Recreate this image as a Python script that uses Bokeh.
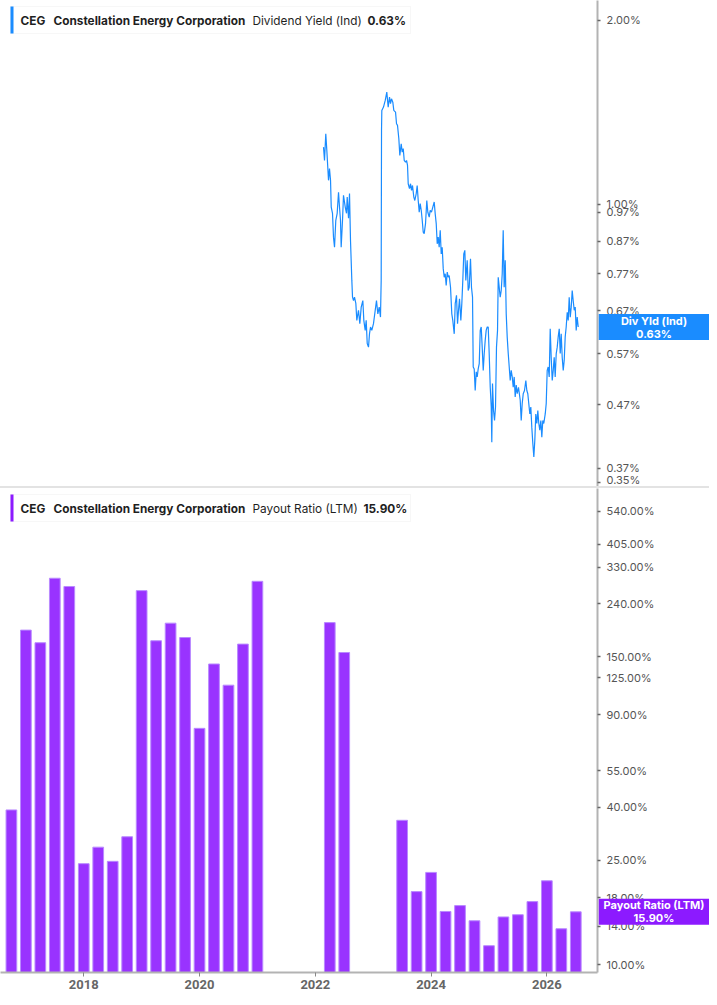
from bokeh.plotting import figure
from bokeh.models import (Range1d, LogAxis, LinearAxis, FixedTicker, PrintfTickFormatter,
                          Label, BoxAnnotation, Div)
from bokeh.layouts import column, row
from bokeh.core.properties import value
from bokeh.embed import file_html
from bokeh.resources import INLINE

# ---------------- data ----------------
# Dividend yield (indicated), %, dates as fractional years
dy_dates = [2022.142, 2022.159, 2022.181, 2022.199, 2022.228, 2022.245, 2022.263, 2022.275, 2022.297, 2022.314,
            2022.332, 2022.354, 2022.378, 2022.401, 2022.418, 2022.435, 2022.447, 2022.470, 2022.487, 2022.517,
            2022.539, 2022.551, 2022.574, 2022.591, 2022.608, 2022.631, 2022.643, 2022.660, 2022.677, 2022.700,
            2022.717, 2022.746, 2022.769, 2022.793, 2022.821, 2022.838, 2022.862, 2022.879, 2022.897, 2022.919,
            2022.936, 2022.954, 2022.976, 2023.005, 2023.035, 2023.057, 2023.080, 2023.104, 2023.126, 2023.138,
            2023.144, 2023.149, 2023.178, 2023.208, 2023.235, 2023.259, 2023.282, 2023.299, 2023.316, 2023.339,
            2023.356, 2023.386, 2023.403, 2023.420, 2023.443, 2023.460, 2023.484, 2023.501, 2023.519, 2023.536,
            2023.558, 2023.576, 2023.593, 2023.605, 2023.627, 2023.645, 2023.662, 2023.679, 2023.702, 2023.719,
            2023.743, 2023.760, 2023.778, 2023.795, 2023.812, 2023.830, 2023.847, 2023.864, 2023.881, 2023.904,
            2023.926, 2023.944, 2023.968, 2023.985, 2024.007, 2024.030, 2024.054, 2024.071, 2024.089, 2024.106,
            2024.123, 2024.140, 2024.158, 2024.175, 2024.192, 2024.210, 2024.227, 2024.244, 2024.261, 2024.279,
            2024.296, 2024.313, 2024.336, 2024.358, 2024.375, 2024.400, 2024.417, 2024.439, 2024.457, 2024.474,
            2024.491, 2024.514, 2024.531, 2024.548, 2024.565, 2024.583, 2024.600, 2024.624, 2024.641, 2024.659,
            2024.681, 2024.698, 2024.716, 2024.728, 2024.745, 2024.762, 2024.780, 2024.797, 2024.814, 2024.832,
            2024.849, 2024.866, 2024.883, 2024.901, 2024.918, 2024.935, 2024.952, 2024.970, 2024.987, 2025.004,
            2025.022, 2025.039, 2025.049, 2025.061, 2025.079, 2025.096, 2025.113, 2025.130, 2025.148, 2025.160,
            2025.177, 2025.194, 2025.212, 2025.229, 2025.246, 2025.263, 2025.281, 2025.298, 2025.315, 2025.333,
            2025.350, 2025.367, 2025.384, 2025.402, 2025.419, 2025.436, 2025.453, 2025.471, 2025.488, 2025.510,
            2025.540, 2025.557, 2025.574, 2025.592, 2025.614, 2025.637, 2025.654, 2025.671, 2025.688, 2025.706,
            2025.723, 2025.740, 2025.758, 2025.775, 2025.792, 2025.809, 2025.827, 2025.844, 2025.861, 2025.878,
            2025.896, 2025.913, 2025.930, 2025.947, 2025.972, 2025.989, 2026.006, 2026.023, 2026.041, 2026.058,
            2026.075, 2026.093, 2026.110, 2026.127, 2026.144, 2026.162, 2026.179, 2026.196, 2026.214, 2026.231,
            2026.248, 2026.265, 2026.283, 2026.300, 2026.317, 2026.334, 2026.352, 2026.369, 2026.386, 2026.404,
            2026.421, 2026.438, 2026.455, 2026.473, 2026.490, 2026.507, 2026.524, 2026.542]
dy_values = [1.241, 1.180, 1.305, 1.226, 1.095, 1.145, 1.095, 0.990, 0.967, 0.884,
             0.851, 0.942, 0.967, 1.047, 0.990, 0.942, 0.851, 0.942, 1.035, 0.990,
             0.967, 1.028, 0.949, 1.042, 0.873, 0.751, 0.705, 0.696, 0.705, 0.689,
             0.646, 0.671, 0.638, 0.679, 0.696, 0.646, 0.622, 0.646, 0.592, 0.584,
             0.614, 0.630, 0.622, 0.638, 0.671, 0.696, 0.662, 0.679, 0.654, 0.751,
             1.322, 1.425, 1.443, 1.480, 1.527, 1.443, 1.498, 1.462, 1.489, 1.470,
             1.425, 1.416, 1.355, 1.347, 1.281, 1.203, 1.257, 1.218, 1.234, 1.180,
             1.173, 1.180, 1.158, 1.081, 1.061, 1.081, 1.054, 1.074, 1.028, 1.015,
             1.041, 1.074, 1.015, 0.971, 1.003, 0.978, 0.942, 0.901, 0.896, 0.930,
             1.015, 0.971, 0.953, 0.978, 0.971, 0.990, 1.009, 0.966, 0.930, 0.862,
             0.884, 0.851, 0.907, 0.830, 0.851, 0.785, 0.760, 0.770, 0.737, 0.775,
             0.760, 0.765, 0.732, 0.662, 0.646, 0.614, 0.688, 0.710, 0.638, 0.671,
             0.701, 0.646, 0.688, 0.751, 0.830, 0.841, 0.751, 0.810, 0.723, 0.732,
             0.815, 0.732, 0.705, 0.542, 0.538, 0.496, 0.532, 0.522, 0.538, 0.549,
             0.622, 0.630, 0.584, 0.535, 0.570, 0.599, 0.622, 0.630, 0.630, 0.570,
             0.502, 0.466, 0.408, 0.509, 0.460, 0.443, 0.466, 0.584, 0.622, 0.760,
             0.732, 0.705, 0.723, 0.770, 0.907, 0.732, 0.810, 0.662, 0.607, 0.570,
             0.542, 0.515, 0.535, 0.522, 0.502, 0.522, 0.484, 0.506, 0.490, 0.502,
             0.478, 0.443, 0.472, 0.490, 0.496, 0.515, 0.496, 0.490, 0.472, 0.454,
             0.466, 0.432, 0.406, 0.386, 0.411, 0.454, 0.438, 0.460, 0.438, 0.427,
             0.443, 0.416, 0.443, 0.438, 0.454, 0.472, 0.535, 0.542, 0.522, 0.626,
             0.562, 0.515, 0.535, 0.562, 0.522, 0.570, 0.584, 0.607, 0.626, 0.570,
             0.614, 0.562, 0.535, 0.556, 0.607, 0.630, 0.666, 0.646, 0.705, 0.654,
             0.679, 0.723, 0.696, 0.671, 0.679, 0.622, 0.654, 0.630]

# Payout ratio (LTM), %, quarterly (quarter-end as fractional year)
pr_dates = [2016.75, 2017.00, 2017.25, 2017.50, 2017.75, 2018.00, 2018.25, 2018.50, 2018.75,
            2019.00, 2019.25, 2019.50, 2019.75, 2020.00, 2020.25, 2020.50, 2020.75, 2021.00,
            2022.25, 2022.50,
            2023.50, 2023.75, 2024.00, 2024.25, 2024.50, 2024.75, 2025.00, 2025.25, 2025.50,
            2025.75, 2026.00, 2026.25, 2026.50]
pr_values = [39.0, 190.0, 170.0, 300.0, 279.0, 24.3, 28.1, 24.8, 30.8,
             269.0, 173.0, 202.0, 178.0, 80.0, 141.0, 117.0, 168.0, 292.0,
             203.0, 156.0,
             35.6, 19.0, 22.5, 15.95, 16.8, 14.7, 11.8, 15.2, 15.5,
             17.4, 20.9, 13.7, 15.9]

dy_ticks = [0.35, 0.37, 0.47, 0.57, 0.67, 0.77, 0.87, 0.97, 1.00, 2.00]
pr_ticks = [10, 14, 18, 25, 40, 55, 90, 125, 150, 240, 330, 405, 540]
year_ticks = [2018, 2020, 2022, 2024, 2026]

dy_last = 0.63
pr_last = 15.90

# ---------------- styling ----------------
W = 709
FRAME_W = 597
OV_W = W - FRAME_W - 1
TOP_H = 486
BOT_FRAME_H = 484
BOT_H = BOT_FRAME_H + 25
FONT = "Inter"
BLUE = "#1a8cff"
PURPLE = "#9933ff"
PURPLE_BOX = "#8c1aff"

x_range = Range1d(2016.5616, 2026.875)


def base_fig(height, y_range, bottom_border):
    p = figure(width=W, height=height, x_range=x_range, y_range=y_range,
               y_axis_type="log", x_axis_location=None, y_axis_location=None,
               toolbar_location=None, output_backend="svg",
               min_border_left=0, min_border_right=W - FRAME_W,
               min_border_top=0, min_border_bottom=bottom_border)
    p.outline_line_color = None
    p.background_fill_color = "white"
    p.border_fill_color = "white"
    p.grid.visible = False
    return p


def right_axis(ticks):
    ax = LogAxis(ticker=FixedTicker(ticks=ticks, minor_ticks=[]),
                 formatter=PrintfTickFormatter(format="%.2f%%"))
    ax.axis_line_color = "#b3b3b3"
    ax.axis_line_width = 2
    ax.major_tick_in = 0
    ax.major_tick_out = 3
    ax.major_tick_line_color = "#666666"
    ax.major_tick_line_width = 1.5
    ax.minor_tick_in = 0
    ax.minor_tick_out = 0
    ax.major_label_standoff = 6
    ax.major_label_text_font = FONT
    ax.major_label_text_font_size = "11px"
    ax.major_label_text_color = "#555555"
    return ax


def legend(p, frame_h, color, metric, val, val_x):
    p.add_layout(BoxAnnotation(left=10, right=410, top=frame_h - 6, bottom=frame_h - 33,
                               left_units="screen", right_units="screen",
                               top_units="screen", bottom_units="screen",
                               fill_color="white", fill_alpha=1.0,
                               line_color="#e6e6e6", line_width=1))
    p.add_layout(BoxAnnotation(left=10, right=13, top=frame_h - 6, bottom=frame_h - 33,
                               left_units="screen", right_units="screen",
                               top_units="screen", bottom_units="screen",
                               fill_color=color, fill_alpha=1.0, line_color=None))
    yc = frame_h - 20
    items = [(20, "CEG", "bold"), (53, "Constellation Energy Corporation", "bold"),
             (252, metric, "normal"), (val_x, val, "bold")]
    for x, t, st in items:
        p.add_layout(Label(x=x, y=yc, x_units="screen", y_units="screen", text=t,
                           text_font=FONT, text_font_size="11.8px", text_font_style=st,
                           text_color="#1f1f1f", text_baseline="middle", text_align="left"))


def value_overlay(height, y_range, bottom_border, yv, line1, line2, color):
    ov = figure(width=OV_W, height=height, x_range=Range1d(0, 1), y_range=y_range,
                y_axis_type="log", x_axis_location=None, y_axis_location=None,
                toolbar_location=None, output_backend="svg",
                min_border_left=0, min_border_right=0, min_border_top=0,
                min_border_bottom=bottom_border)
    ov.outline_line_color = None
    ov.background_fill_color = None
    ov.border_fill_color = None
    ov.background_fill_alpha = 0
    ov.border_fill_alpha = 0
    ov.grid.visible = False
    ov.margin = (0, 0, 0, -OV_W)
    ov.rect(x=[0.5], y=[yv], width=1, height=26, height_units="screen",
            fill_color=color, line_color=None)
    ov.text(x=[0.5], y=[yv], text=[line1], y_offset=-6.5,
            text_font=value(FONT), text_font_size="11px", text_font_style="bold",
            text_color="white", text_align="center", text_baseline="middle")
    ov.text(x=[0.5], y=[yv], text=[line2], y_offset=6.5,
            text_font=value(FONT), text_font_size="11px", text_font_style="bold",
            text_color="white", text_align="center", text_baseline="middle")
    return ov


# ---------------- top: dividend yield ----------------
top_yr = Range1d(0.3454, 2.1564)
top = base_fig(TOP_H, top_yr, 0)
top.line(dy_dates, dy_values, line_color=BLUE, line_width=1.2)
top.add_layout(right_axis(dy_ticks), "right")
legend(top, TOP_H, BLUE, "Dividend Yield (Ind)", "%.2f%%" % dy_last, 367)
top_ov = value_overlay(TOP_H, top_yr, 0, dy_last, "Div Yld (Ind)", "%.2f%%" % dy_last, BLUE)

# ---------------- bottom: payout ratio ----------------
bot_yr = Range1d(9.32, 661.2)
bot = base_fig(BOT_H, bot_yr, 25)
bot.vbar(x=pr_dates, top=pr_values, bottom=1.0, width=0.185,
         fill_color=PURPLE, line_color="#b98aff", line_width=1)
bot.add_layout(right_axis(pr_ticks), "right")
xax = LinearAxis(ticker=FixedTicker(ticks=year_ticks, minor_ticks=[]),
                 major_label_overrides={y: str(y) for y in year_ticks})
xax.axis_line_color = "#b3b3b3"
xax.axis_line_width = 2
xax.major_tick_in = 0
xax.major_tick_out = 4
xax.major_tick_line_color = "#888888"
xax.minor_tick_in = 0
xax.minor_tick_out = 0
xax.major_label_standoff = 3
xax.major_label_text_font = "Roboto"
xax.major_label_text_font_size = "13px"
xax.major_label_text_font_style = "bold"
xax.major_label_text_color = "#666666"
bot.add_layout(xax, "below")
legend(bot, BOT_FRAME_H, PURPLE_BOX, "Payout Ratio (LTM)", "%.2f%%" % pr_last, 363)
bot_ov = value_overlay(BOT_H, bot_yr, 25, pr_last, "Payout Ratio (LTM)", "%.2f%%" % pr_last, PURPLE_BOX)

sep = Div(text="", width=W, height=2, margin=(0, 0, 0, 0),
          styles={"background-color": "#e3e3e3"})

layout = column(row(top, top_ov), sep, row(bot, bot_ov))
open("out.html", "w").write(file_html(layout, INLINE))
